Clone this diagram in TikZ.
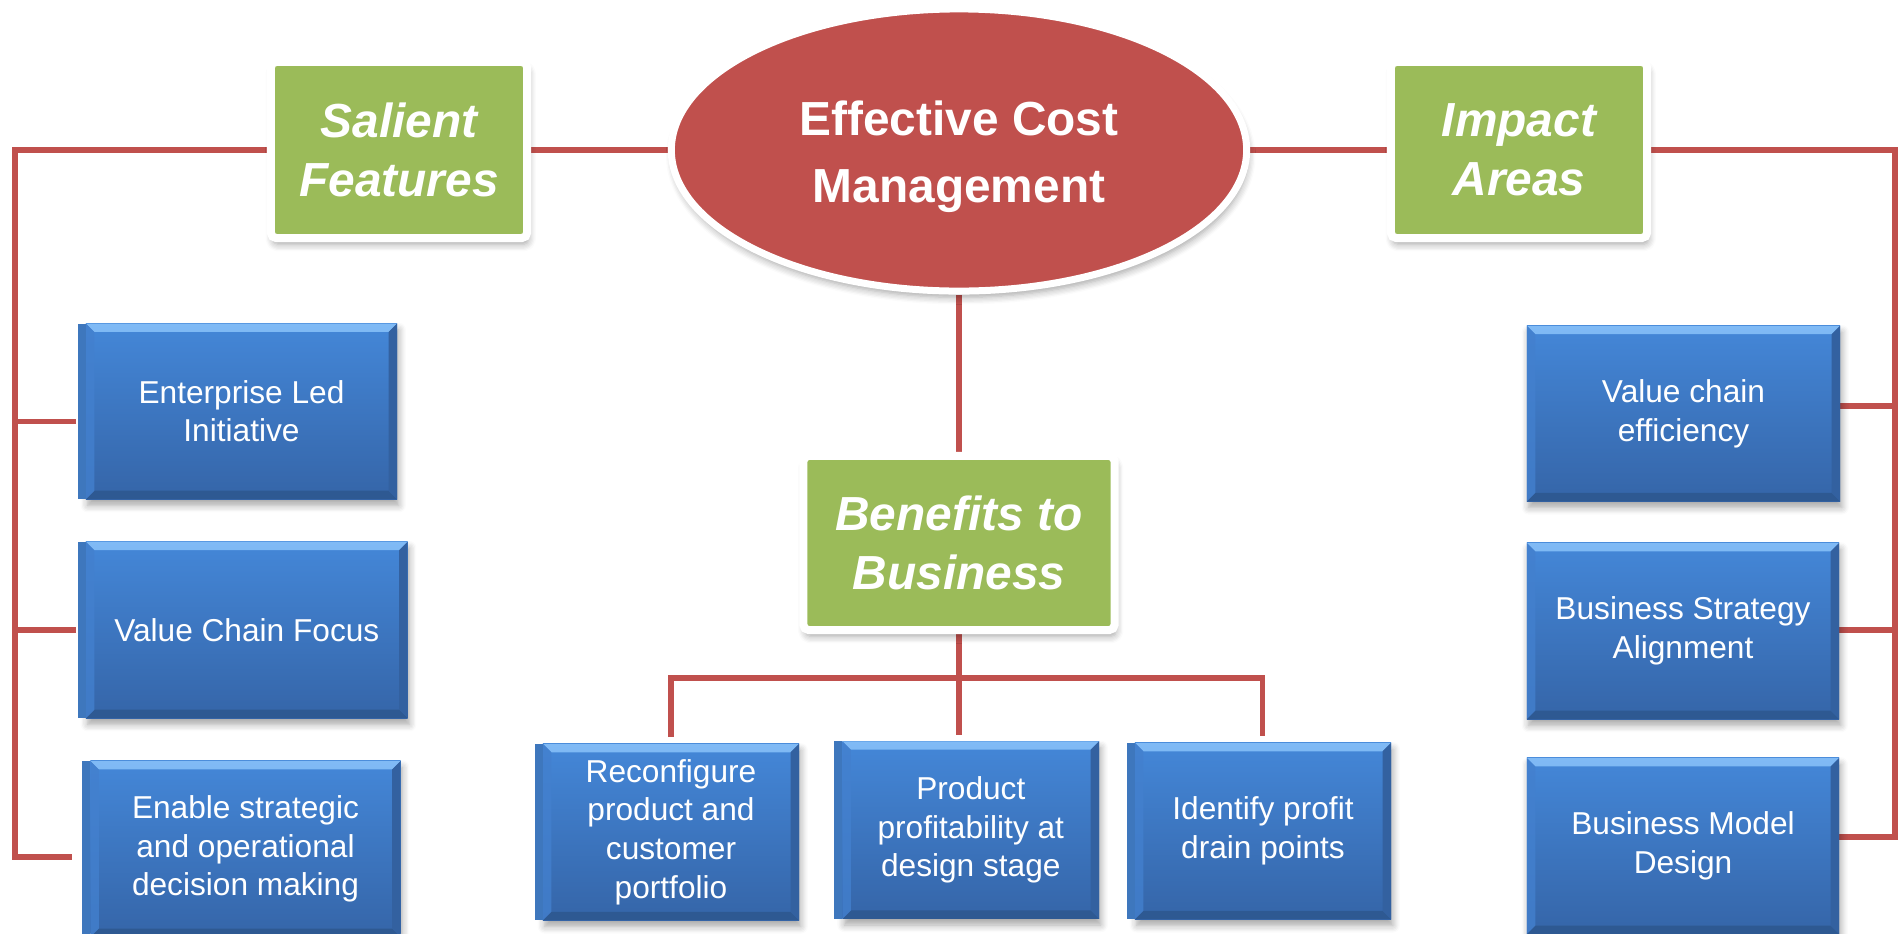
\documentclass[tikz,border=0pt]{standalone}
\usepackage{fontspec}
\setmainfont{Liberation Sans}
\usetikzlibrary{shapes.geometric,backgrounds,shadows.blur}

\definecolor{ecmred}{HTML}{C0504D}
\definecolor{hdgreen}{HTML}{9BBB59}
\definecolor{facetop}{HTML}{4487D8}
\definecolor{facebot}{HTML}{3565A8}
\definecolor{bevtopa}{HTML}{80BAF5}
\definecolor{bevtopb}{HTML}{5A9BE4}
\definecolor{bevbot}{HTML}{2E5992}
\definecolor{bevleft}{HTML}{4380CE}
\definecolor{bevright}{HTML}{3361A0}
\definecolor{stripcol}{HTML}{3E77BD}

\newcommand\bev{2.4pt}
\newcommand\ppb{path picture bounding box}

% darker strip on the left side of some item boxes
\newcommand\sidestrip[1]{%
  \fill[stripcol] ([xshift=-0.08cm]#1.north west) rectangle (#1.south west);}

\tikzset{
  softshadow/.style={blur shadow={shadow xshift=0.5pt, shadow yshift=-1.8pt,
      shadow blur radius=2pt, shadow blur steps=6, shadow opacity=35}},
  conn/.style={draw=ecmred, line width=1.45pt},
  hub/.style={ellipse, fill=ecmred, draw=white, line width=0.07cm,
      minimum width=5.75cm, minimum height=2.82cm, inner sep=0pt, softshadow},
  hubtext/.style={text=white, align=center, inner sep=0pt,
      font=\fontsize{13.6}{19}\selectfont\bfseries},
  heading/.style={rectangle, rounded corners=1.5pt, fill=hdgreen, draw=white,
      line width=0.08cm, inner sep=0pt, text=white, align=center,
      font=\fontsize{13.6}{16.8}\selectfont\bfseries\itshape, softshadow},
  itembox/.style={rectangle, inner sep=0pt, outer sep=0pt,
      top color=facetop, bottom color=facebot, text=white, align=center,
      font=\fontsize{9}{11}\selectfont, softshadow,
      path picture={
        \shade[top color=bevtopa, bottom color=bevtopb]
          (\ppb.north west) -- (\ppb.north east)
          -- ([xshift=-\bev,yshift=-\bev]\ppb.north east)
          -- ([xshift=\bev,yshift=-\bev]\ppb.north west) -- cycle;
        \fill[bevbot]
          (\ppb.south west) -- (\ppb.south east)
          -- ([xshift=-\bev,yshift=\bev]\ppb.south east)
          -- ([xshift=\bev,yshift=\bev]\ppb.south west) -- cycle;
        \fill[bevleft, opacity=0.8]
          (\ppb.north west) -- ([xshift=\bev,yshift=-\bev]\ppb.north west)
          -- ([xshift=\bev,yshift=\bev]\ppb.south west)
          -- (\ppb.south west) -- cycle;
        \fill[bevright]
          (\ppb.north east) -- ([xshift=-\bev,yshift=-\bev]\ppb.north east)
          -- ([xshift=-\bev,yshift=\bev]\ppb.south east)
          -- (\ppb.south east) -- cycle;
      }},
}

\begin{document}
\begin{tikzpicture}[x=0.01cm, y=-0.01cm]
\useasboundingbox (0,0) rectangle (1900,933);
\clip (0,0) rectangle (1900,933);

% central topic and the three headings
\node[hub] (ecm) at (959,150) {};
\node[hubtext] (ecmtext) at (959,157) {Effective Cost\\Management};
\node[heading, minimum width=2.56cm, minimum height=1.76cm] (sal) at (399,150) {Salient\\Features};
\node[heading, minimum width=2.56cm, minimum height=1.76cm] (imp) at (1519,150) {Impact\\Areas};
\node[heading, minimum width=3.11cm, minimum height=1.74cm] (ben) at (959,543) {Benefits to\\Business};

% salient features
\node[itembox, minimum width=3.11cm, minimum height=1.755cm] (ent) at (241.5,411.3) {Enterprise Led\\Initiative};
\node[itembox, minimum width=3.215cm, minimum height=1.763cm] (vcf) at (246.8,629.9) {Value Chain Focus};
\node[itembox, minimum width=3.10cm, minimum height=1.76cm] (enb) at (245.5,849) {Enable strategic\\and operational\\decision making};

% benefits to business
\node[itembox, minimum width=2.56cm, minimum height=1.763cm] (rec) at (671,832) {Reconfigure\\product and\\customer\\portfolio};
\node[itembox, minimum width=2.565cm, minimum height=1.774cm] (pro) at (970.8,830) {Product\\profitability at\\design stage};
\node[itembox, minimum width=2.56cm, minimum height=1.763cm] (idp) at (1263,831) {Identify profit\\drain points};

% impact areas
\node[itembox, minimum width=3.13cm, minimum height=1.754cm] (vce) at (1683.5,413.5) {Value chain\\efficiency};
\node[itembox, minimum width=3.12cm, minimum height=1.76cm] (bsa) at (1683,631) {Business Strategy\\Alignment};
\node[itembox, minimum width=3.12cm, minimum height=1.76cm] (bmd) at (1683,846) {Business Model\\Design};

\sidestrip{ent}
\sidestrip{vcf}
\sidestrip{enb}
\sidestrip{rec}
\sidestrip{pro}
\sidestrip{idp}

% rails and branch points
\coordinate (lb1) at (15,421.7);
\coordinate (lb2) at (15,630);
\coordinate (lb3) at (15,857);
\coordinate (rb1) at (1895,406);
\coordinate (rb2) at (1895,630);
\coordinate (rb3) at (1895,837);
\coordinate (hl) at (671,678);
\coordinate (hb) at (959,678);
\coordinate (hr) at (1262.5,678);

\begin{scope}[on background layer]
  \draw[conn] (sal) -- (ecm) -- (imp);
  \draw[conn] (sal.west) -| (lb3) -- ([xshift=-0.186cm]lb3 -| enb.west);
  \draw[conn] (lb1) -- ([xshift=-0.1cm]lb1 -| ent.west);
  \draw[conn] (lb2) -- ([xshift=-0.1cm]lb2 -| vcf.west);
  \draw[conn] (imp.east) -| (rb3) -- (rb3 -| bmd.east);
  \draw[conn] (rb1) -- (rb1 -| vce.east);
  \draw[conn] (rb2) -- (rb2 -| bsa.east);
  \draw[conn] (ecm.south) -- (ben.north);
  \draw[conn] (ben.south) -- (hb);
  \draw[conn] ([yshift=1.9pt]hl |- rec.north) -- (hl) -- (hr) -- ([yshift=1.9pt]hr |- idp.north);
  \draw[conn] (hb) -- ([yshift=1.9pt]hb |- pro.north);
\end{scope}
\end{tikzpicture}
\end{document}
